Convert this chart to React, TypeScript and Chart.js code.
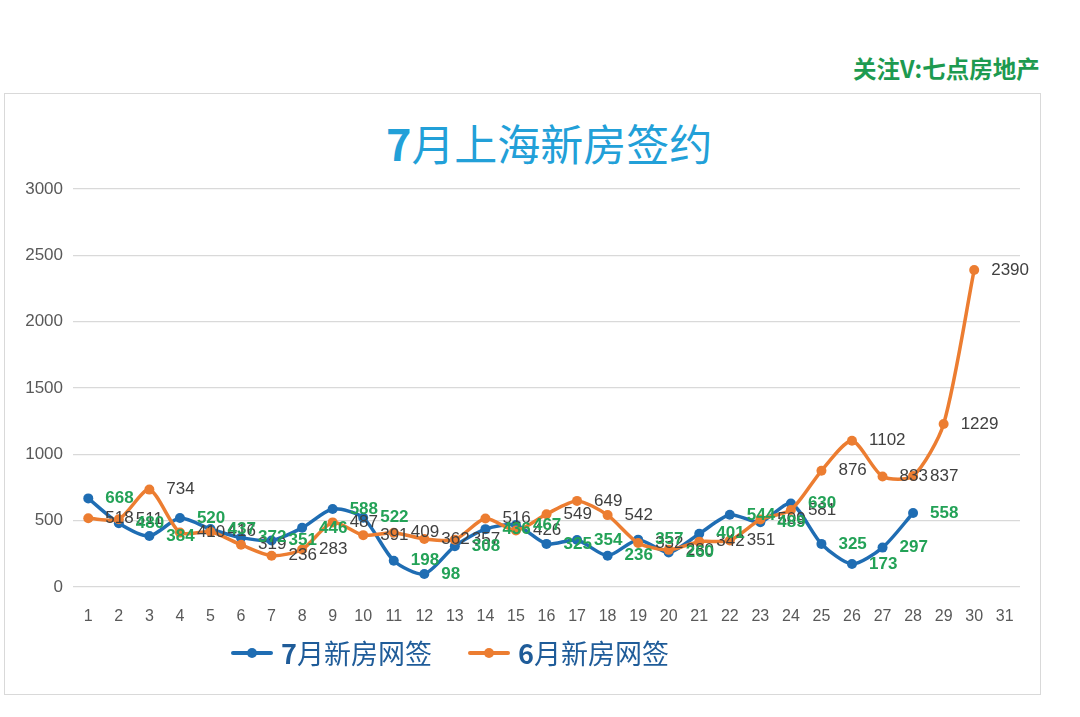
import { useEffect, useRef } from "react"
import { Chart, registerables, type ChartConfiguration, type Plugin } from "chart.js"

Chart.register(...registerables)

const days = [
  "1", "2", "3", "4", "5", "6", "7", "8", "9", "10",
  "11", "12", "13", "14", "15", "16", "17", "18", "19", "20",
  "21", "22", "23", "24", "25", "26", "27", "28", "29", "30", "31",
]

// 7月新房网签 (1-28日)
const julySigned = [
  668, 480, 384, 520, 437, 372, 351, 446, 588, 522,
  198, 98, 308, 436, 467, 325, 354, 236, 357, 260,
  401, 544, 489, 630, 325, 173, 297, 558,
]

// 6月新房网签 (1-30日)
const juneSigned = [
  518, 511, 734, 410, 416, 319, 236, 283, 487, 391,
  409, 362, 357, 516, 426, 549, 649, 542, 332, 280,
  342, 351, 509, 581, 876, 1102, 833, 837, 1229, 2390,
]

const yTicks = [0, 500, 1000, 1500, 2000, 2500, 3000]

const BLUE = "#1f6db3"
const ORANGE = "#ec7d31"

// Excel-style labels placed to the right of each point
const valueLabels: Plugin<"line"> = {
  id: "valueLabels",
  afterDatasetsDraw(chart) {
    const { ctx } = chart
    // 6月 labels first, 7月 (green) on top
    ;[1, 0].forEach((di) => {
      const meta = chart.getDatasetMeta(di)
      const values = chart.data.datasets[di].data as number[]
      ctx.save()
      ctx.font = di === 0 ? "bold 17px 'Liberation Sans', Arial" : "17px 'Liberation Sans', Arial"
      ctx.fillStyle = di === 0 ? "#23a257" : "#404040"
      ctx.textAlign = "left"
      ctx.textBaseline = "middle"
      meta.data.forEach((pt, i) => {
        ctx.fillText(String(values[i]), pt.x + 17, pt.y)
      })
      ctx.restore()
    })
  },
}

function ChartCanvas() {
  const chartRef = useRef<HTMLCanvasElement>(null)
  const chartInstance = useRef<Chart | null>(null)

  useEffect(() => {
    if (!chartRef.current) return
    const ctx = chartRef.current.getContext("2d")
    if (!ctx) return

    if (chartInstance.current) {
      chartInstance.current.destroy()
    }

    const config: ChartConfiguration<"line"> = {
      type: "line",
      data: {
        labels: days,
        datasets: [
          {
            label: "7月新房网签",
            data: julySigned,
            borderColor: BLUE,
            backgroundColor: BLUE,
            borderWidth: 3.5,
            pointRadius: 5,
            pointBorderWidth: 0,
            tension: 0.25,
            order: 1,
          },
          {
            label: "6月新房网签",
            data: juneSigned,
            borderColor: ORANGE,
            backgroundColor: ORANGE,
            borderWidth: 3.5,
            pointRadius: 5,
            pointBorderWidth: 0,
            tension: 0.25,
            order: 0,
          },
        ],
      },
      options: {
        responsive: false,
        animation: false,
        layout: {
          padding: { top: 189, right: 60, bottom: 90, left: 0 },
        },
        scales: {
          x: {
            offset: true,
            grid: { display: false },
            border: { display: false },
            ticks: {
              color: "#595959",
              font: { family: "'Liberation Sans', Arial", size: 16 },
              padding: 12,
              maxRotation: 0,
              autoSkip: false,
            },
            afterFit: (scale) => {
              scale.height = 40
            },
          },
          y: {
            min: 0,
            max: 3000,
            afterBuildTicks: (scale) => {
              scale.ticks = yTicks.map((v) => ({ value: v }))
            },
            grid: { color: "#d9d9d9", lineWidth: 1.2, drawTicks: false },
            border: { display: false },
            ticks: {
              color: "#595959",
              font: { family: "'Liberation Sans', Arial", size: 17 },
              padding: 10,
              callback: (value) => String(value),
            },
            afterFit: (scale) => {
              scale.width = 73
            },
          },
        },
        plugins: {
          legend: { display: false },
          title: { display: false },
          tooltip: { enabled: false },
        },
      },
      plugins: [valueLabels],
    }

    chartInstance.current = new Chart(ctx, config)

    return () => {
      if (chartInstance.current) {
        chartInstance.current.destroy()
        chartInstance.current = null
      }
    }
  }, [])

  return (
    <canvas
      ref={chartRef}
      width={1080}
      height={717}
      style={{ position: "absolute", left: 0, top: 0, width: 1080, height: 717 }}
    />
  )
}

function LegendItem({ color, num, text, left }: { color: string; num: string; text: string; left: number }) {
  return (
    <div style={{ position: "absolute", left, top: 637, height: 32, display: "flex", alignItems: "center" }}>
      <div style={{ position: "relative", width: 42, height: 4, background: color, borderRadius: 2 }}>
        <div
          style={{
            position: "absolute",
            left: 16,
            top: -3,
            width: 10,
            height: 10,
            borderRadius: 5,
            background: color,
          }}
        />
      </div>
      <span
        style={{
          marginLeft: 8,
          fontFamily: "'Noto Sans CJK SC', sans-serif",
          fontSize: 27,
          lineHeight: "32px",
          color: "#1f5c99",
        }}
      >
        <b>{num}</b>
        {text}
      </span>
    </div>
  )
}

export default function App() {
  return (
    <div
      style={{
        position: "fixed",
        left: 0,
        top: 0,
        width: 1080,
        height: 717,
        background: "#ffffff",
        overflow: "hidden",
      }}
    >
      <div
        style={{
          position: "absolute",
          left: 4,
          top: 93,
          width: 1035,
          height: 600,
          border: "1px solid #d9d9d9",
        }}
      />
      <div
        style={{
          position: "absolute",
          left: 853,
          top: 55,
          fontFamily: "'Noto Sans CJK SC', sans-serif",
          fontWeight: 700,
          fontSize: 23.5,
          lineHeight: "26px",
          color: "#1d9a50",
          whiteSpace: "nowrap",
        }}
      >
        关注V:七点房地产
      </div>
      <div
        style={{
          position: "absolute",
          left: 386,
          top: 118,
          fontFamily: "'Noto Sans CJK SC', sans-serif",
          fontSize: 43,
          lineHeight: "48px",
          color: "#22a0d8",
          whiteSpace: "nowrap",
        }}
      >
        <b>7</b>月上海新房签约
      </div>
      <ChartCanvas />
      <LegendItem color={BLUE} num="7" text="月新房网签" left={231} />
      <LegendItem color={ORANGE} num="6" text="月新房网签" left={468} />
    </div>
  )
}
